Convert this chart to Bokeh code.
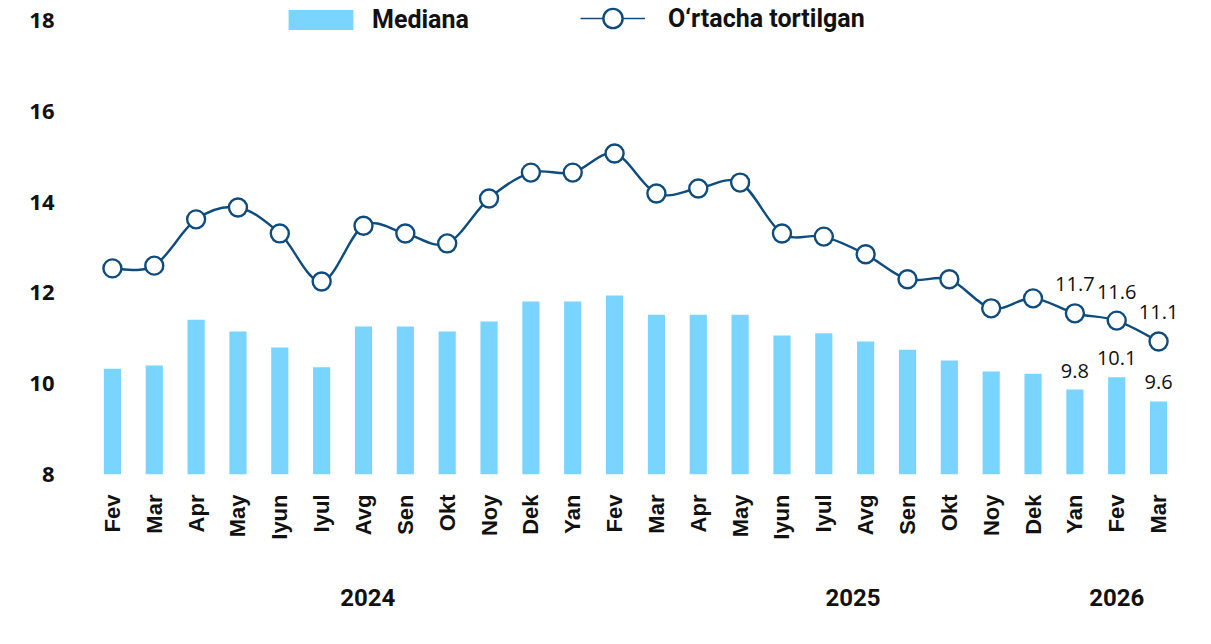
from bokeh.plotting import figure
from bokeh.models import (ColumnDataSource, Range1d, FixedTicker, LinearAxis, Legend, LegendItem, LabelSet)
from bokeh.core.properties import value
from bokeh.embed import file_html
from bokeh.resources import INLINE

months = ["Fev", "Mar", "Apr", "May", "Iyun", "Iyul", "Avg", "Sen", "Okt", "Noy", "Dek",
          "Yan", "Fev", "Mar", "Apr", "May", "Iyun", "Iyul", "Avg", "Sen", "Okt", "Noy", "Dek",
          "Yan", "Fev", "Mar"]
mediana = [10.33, 10.40, 11.41, 11.15, 10.80, 10.36, 11.26, 11.26, 11.15, 11.37, 11.81,
           11.81, 11.94, 11.52, 11.52, 11.52, 11.06, 11.11, 10.93, 10.75, 10.51, 10.27, 10.22,
           9.87, 10.14, 9.61]
ortacha = [12.54, 12.60, 13.62, 13.88, 13.31, 12.25, 13.48, 13.31, 13.09, 14.08, 14.65,
           14.65, 15.07, 14.19, 14.30, 14.43, 13.31, 13.24, 12.85, 12.30, 12.30, 11.66, 11.88,
           11.55, 11.39, 10.93]
bar_labels = ["", "", "", "", "", "", "", "", "", "", "", "", "", "", "", "", "", "", "", "", "", "", "",
              "9.8", "10.1", "9.6"]
line_labels = ["", "", "", "", "", "", "", "", "", "", "", "", "", "", "", "", "", "", "", "", "", "", "",
               "11.7", "11.6", "11.1"]
years = ["2024", "2025", "2026"]
year_pos = [6.1, 17.7, 24.0]
y_ticks = [8, 10, 12, 14, 16, 18]

BAR_C = "#79d5fd"
LINE_C = "#0f4c7e"

n = len(months)
xs = list(range(n))

p = figure(width=1205, height=630, output_backend="svg", toolbar_location=None,
           x_range=Range1d(-0.5, n - 0.5), y_range=Range1d(8, 18 + 20 / 45.4),
           min_border_left=91, min_border_right=26, min_border_top=0, min_border_bottom=156)
p.outline_line_color = None
p.grid.visible = False
p.background_fill_color = "white"
# off-screen range used only so the legend's line swatch has a real renderer
p.extra_y_ranges = {"legend_only": Range1d(100, 101)}

bsrc = ColumnDataSource(dict(x=xs, top=mediana, lab=bar_labels))
bars = p.vbar(x="x", top="top", bottom=8, width=0.41, source=bsrc, fill_color=BAR_C, line_color=None)

# smooth line via cubic bezier segments (Catmull-Rom control points)
x0, y0, x1, y1, cx0, cy0, cx1, cy1 = [], [], [], [], [], [], [], []
for i in range(n - 1):
    pm = i - 1 if i > 0 else i
    pp = i + 2 if i + 2 < n else i + 1
    x0.append(xs[i]); y0.append(ortacha[i])
    x1.append(xs[i + 1]); y1.append(ortacha[i + 1])
    cx0.append(xs[i] + (xs[i + 1] - xs[pm]) / 6.0)
    cy0.append(ortacha[i] + (ortacha[i + 1] - ortacha[pm]) / 6.0)
    cx1.append(xs[i + 1] - (xs[pp] - xs[i]) / 6.0)
    cy1.append(ortacha[i + 1] - (ortacha[pp] - ortacha[i]) / 6.0)
p.bezier(x0=x0, y0=y0, x1=x1, y1=y1, cx0=cx0, cy0=cy0, cx1=cx1, cy1=cy1,
         line_color=LINE_C, line_width=2.4)

lsrc = ColumnDataSource(dict(x=xs, y=ortacha, lab=line_labels))
leg_line = p.line(x="x", y="y", source=lsrc, line_color=LINE_C, line_width=1.6,
                  y_range_name="legend_only")
dots = p.scatter(x="x", y="y", source=lsrc, size=18, marker="circle", fill_color="white",
                 line_color=LINE_C, line_width=2.4)

p.add_layout(LabelSet(x="x", y="top", text="lab", source=bsrc, text_align="center",
                      text_baseline="bottom", y_offset=12, text_font=value("Open Sans"),
                      text_font_size="20px", text_color="#111111"))
p.add_layout(LabelSet(x="x", y="y", text="lab", source=lsrc, text_align="center",
                      text_baseline="bottom", y_offset=22, text_font=value("Open Sans"),
                      text_font_size="20px", text_color="#111111"))

# axes
xa = p.xaxis[0]
xa.ticker = FixedTicker(ticks=xs)
xa.major_label_overrides = {i: m for i, m in enumerate(months)}
xa.major_label_orientation = 1.5708
xa.major_label_text_font = "Liberation Sans"
xa.major_label_text_font_size = "22px"
xa.major_label_text_font_style = "bold"
xa.major_label_text_color = "#111111"
xa.major_label_standoff = 14
xa.axis_line_color = None
xa.major_tick_line_color = None
xa.minor_tick_line_color = None

ya = p.yaxis[0]
ya.ticker = FixedTicker(ticks=y_ticks)
ya.major_label_text_font = "Noto Sans"
ya.major_label_text_font_size = "22px"
ya.major_label_text_font_style = "bold"
ya.major_label_text_color = "#111111"
ya.major_label_standoff = 31
ya.axis_line_color = None
ya.major_tick_line_color = None
ya.minor_tick_line_color = None

yr = LinearAxis(ticker=FixedTicker(ticks=year_pos),
                major_label_overrides={year_pos[i]: years[i] for i in range(len(years))})
yr.axis_line_color = None
yr.major_tick_line_color = None
yr.minor_tick_line_color = None
yr.major_label_text_font = "Roboto"
yr.major_label_text_font_style = "bold"
yr.major_label_text_font_size = "24px"
yr.major_label_text_color = "#111111"
yr.major_label_standoff = 40
p.add_layout(yr, "below")

legend1 = Legend(items=[LegendItem(label="Mediana", renderers=[bars])],
                 orientation="horizontal", location=(189, 440), glyph_width=81, glyph_height=25,
                 label_standoff=11, padding=0, margin=0,
                 border_line_color=None, background_fill_alpha=0,
                 label_text_font="Roboto", label_text_font_style="bold",
                 label_text_font_size="25px", label_text_color="#111111")
legend2 = Legend(items=[LegendItem(label="O\u2018rtacha tortilgan", renderers=[leg_line, dots])],
                 orientation="horizontal", location=(489, 432), glyph_width=65, glyph_height=48,
                 label_standoff=23, padding=0, margin=0,
                 border_line_color=None, background_fill_alpha=0,
                 label_text_font="Roboto", label_text_font_style="bold",
                 label_text_font_size="25px", label_text_color="#111111")
p.add_layout(legend1)
p.add_layout(legend2)

open("out.html", "w").write(file_html(p, INLINE))
